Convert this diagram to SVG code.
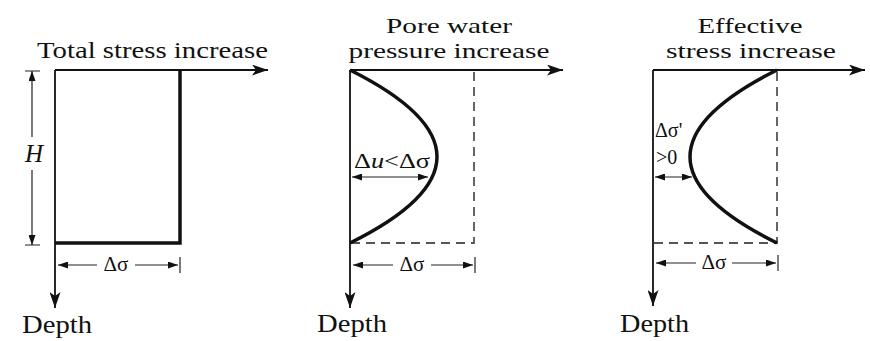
<svg xmlns="http://www.w3.org/2000/svg" width="870" height="341" viewBox="0 0 870 341">
<style>
.t{font-family:"Liberation Serif","Times New Roman",serif;fill:#111}
.ax{stroke:#111;stroke-width:1.8;fill:none}
.thk{stroke:#111;stroke-width:3.5;fill:none}
.dsh{stroke:#555;stroke-width:1.8;fill:none;stroke-dasharray:9 6}
.dim{stroke:#222;stroke-width:1.2;fill:none}
</style>
<defs>
<marker id="big" markerUnits="userSpaceOnUse" markerWidth="17" markerHeight="11" refX="16" refY="5.5" orient="auto"><path d="M0,0 L16,5.5 L0,11 L4,5.5 z" fill="#111"/></marker>
<marker id="sm" markerUnits="userSpaceOnUse" markerWidth="11" markerHeight="7" refX="10" refY="3.5" orient="auto-start-reverse"><path d="M0,0 L10,3.5 L0,7 z" fill="#111"/></marker>
</defs>
<rect width="870" height="341" fill="#fff"/>

<g id="panel-total">
<text class="t" x="37" y="58" font-size="24" textLength="231" lengthAdjust="spacingAndGlyphs">Total stress increase</text>
<path class="ax" d="M55,70 L55,308" marker-end="url(#big)"/>
<path class="ax" d="M55,70 L268,70" marker-end="url(#big)"/>
<path class="thk" d="M180,70 L180,243 L55,243"/>
<text class="t" x="116" y="271" font-size="21" text-anchor="middle">Δσ</text>
<text class="t" x="22" y="333" font-size="26" textLength="70" lengthAdjust="spacingAndGlyphs">Depth</text>
<text class="t" x="34" y="162" font-size="25" font-style="italic" text-anchor="middle">H</text>
</g>

<g id="panel-pore">
<text class="t" x="449" y="33" font-size="22" text-anchor="middle" textLength="126" lengthAdjust="spacingAndGlyphs">Pore water</text>
<text class="t" x="449" y="58" font-size="22" text-anchor="middle" textLength="201" lengthAdjust="spacingAndGlyphs">pressure increase</text>
<path class="ax" d="M350,70 L350,308" marker-end="url(#big)"/>
<path class="ax" d="M350,70 L563,70" marker-end="url(#big)"/>
<path class="dsh" d="M474,72 L474,243 L350,243"/>
<path class="thk" d="M350,70 Q524,157 350,243"/>
<text class="t" x="392" y="168" font-size="21" text-anchor="middle" textLength="76" lengthAdjust="spacingAndGlyphs">Δ<tspan font-style="italic">u</tspan>&lt;Δσ</text>
<text class="t" x="412" y="271" font-size="21" text-anchor="middle">Δσ</text>
<text class="t" x="317" y="332" font-size="26" textLength="70" lengthAdjust="spacingAndGlyphs">Depth</text>
</g>

<g id="panel-effective">
<text class="t" x="750" y="33" font-size="22" text-anchor="middle" textLength="105" lengthAdjust="spacingAndGlyphs">Effective</text>
<text class="t" x="751" y="58" font-size="22" text-anchor="middle" textLength="170" lengthAdjust="spacingAndGlyphs">stress increase</text>
<path class="ax" d="M653,70 L653,306" marker-end="url(#big)"/>
<path class="ax" d="M653,70 L865,70" marker-end="url(#big)"/>
<path class="dsh" d="M777,72 L777,243 L653,243"/>
<path class="thk" d="M777,70 Q603,157 777,243"/>
<text class="t" x="655" y="137" font-size="20">Δσ'</text>
<text class="t" x="656" y="164" font-size="20">&gt;0</text>
<text class="t" x="714" y="269" font-size="21" text-anchor="middle">Δσ</text>
<text class="t" x="620" y="332" font-size="26" textLength="69" lengthAdjust="spacingAndGlyphs">Depth</text>
</g>

<g id="connectors">
<path class="dim" d="M32,137 L32,71" marker-end="url(#sm)"/>
<path class="dim" d="M32,170 L32,245" marker-end="url(#sm)"/>
<path class="dim" d="M25,71 L40,71 M25,245 L40,245"/>
<path class="dim" d="M97,265 L58,265" marker-end="url(#sm)"/>
<path class="dim" d="M135,265 L178,265" marker-end="url(#sm)"/>
<path class="dim" d="M180,257 L180,273"/>
<path class="dim" d="M352,177 L428,177" marker-start="url(#sm)" marker-end="url(#sm)"/>
<path class="dim" d="M393,265 L353,265" marker-end="url(#sm)"/>
<path class="dim" d="M431,265 L473,265" marker-end="url(#sm)"/>
<path class="dim" d="M475,257 L475,273"/>
<path class="dim" d="M655,177 L692,177" marker-start="url(#sm)" marker-end="url(#sm)"/>
<path class="dim" d="M696,263 L656,263" marker-end="url(#sm)"/>
<path class="dim" d="M732,263 L776,263" marker-end="url(#sm)"/>
<path class="dim" d="M778,255 L778,271"/>
</g>
</svg>
